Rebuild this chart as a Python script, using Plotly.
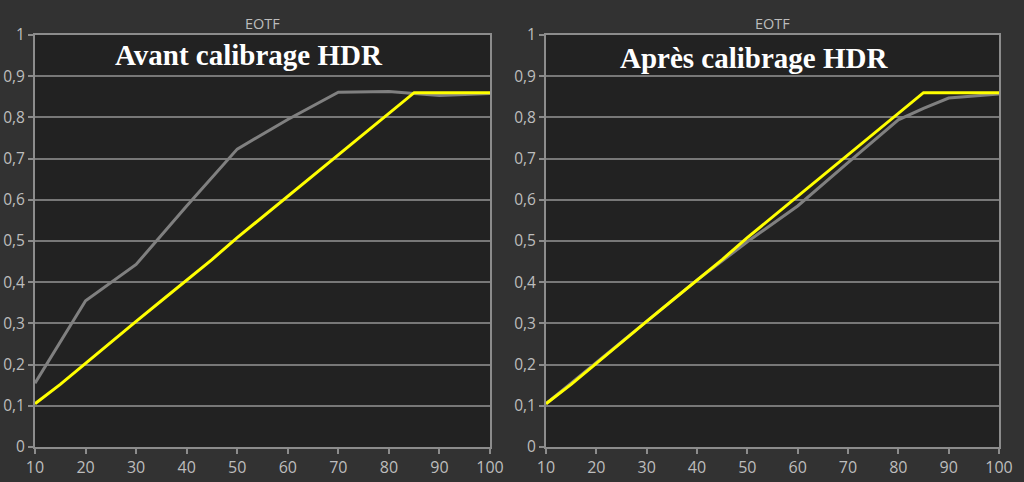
import plotly.graph_objects as go

# ---- data ----
x_target = [10, 15, 20, 25, 30, 35, 40, 45, 50, 55, 60, 65, 70, 75, 80, 85, 90, 95, 100]
target = [0.105, 0.152, 0.203, 0.255, 0.305, 0.355, 0.405, 0.455, 0.508, 0.558,
          0.608, 0.660, 0.710, 0.760, 0.810, 0.860, 0.860, 0.860, 0.860]

x_meas = [10, 20, 30, 40, 50, 60, 70, 80, 85, 90, 100]
before = [0.155, 0.355, 0.443, 0.585, 0.723, 0.795, 0.861, 0.863, 0.858, 0.853, 0.858]
after = [0.105, 0.205, 0.305, 0.405, 0.498, 0.585, 0.690, 0.794, 0.822, 0.847, 0.857]

y_ticks = [0, 0.1, 0.2, 0.3, 0.4, 0.5, 0.6, 0.7, 0.8, 0.9, 1]
y_labels = ["0", "0,1", "0,2", "0,3", "0,4", "0,5", "0,6", "0,7", "0,8", "0,9", "1"]
x_ticks = [10, 20, 30, 40, 50, 60, 70, 80, 90, 100]

panel_titles = ["Avant calibrage HDR", "Après calibrage HDR"]
chart_title = "EOTF"

# ---- style ----
YELLOW = "#ffff00"
GRAY = "#808080"
FRAME = "#8c8c8c"
GRID = "#787878"
TXT = "#bdbdbd"

fig = go.Figure()

fig.add_trace(go.Scatter(x=x_meas, y=before, mode="lines", line=dict(color=GRAY, width=3),
                         xaxis="x", yaxis="y", showlegend=False))
fig.add_trace(go.Scatter(x=x_target, y=target, mode="lines", line=dict(color=YELLOW, width=3),
                         xaxis="x", yaxis="y", showlegend=False))
fig.add_trace(go.Scatter(x=x_meas, y=after, mode="lines", line=dict(color=GRAY, width=3),
                         xaxis="x2", yaxis="y2", showlegend=False))
fig.add_trace(go.Scatter(x=x_target, y=target, mode="lines", line=dict(color=YELLOW, width=3),
                         xaxis="x2", yaxis="y2", showlegend=False))

W, H = 1024, 482
dom_y = [1 - 447 / H, 1 - 35 / H]
dom_x1 = [35 / W, 490 / W]
dom_x2 = [546 / W, 999 / W]

def xaxis(dom, anchor):
    return dict(domain=dom, anchor=anchor, range=[10, 100], tickvals=x_ticks,
                automargin=False,
                showgrid=False, zeroline=False, showline=True, linecolor=FRAME, linewidth=2,
                mirror=True, ticks="outside", ticklen=5, tickwidth=1.5, tickcolor=FRAME,
                tickfont=dict(family="Open Sans, sans-serif", size=16, color=TXT))

def yaxis(anchor):
    return dict(domain=dom_y, anchor=anchor, range=[0, 1], tickvals=y_ticks, ticktext=y_labels,
                automargin=False,
                showgrid=True, gridcolor=GRID, gridwidth=2, zeroline=False,
                showline=True, linecolor=FRAME, linewidth=2, mirror=True,
                ticks="outside", ticklen=5, tickwidth=1.5, tickcolor=FRAME,
                tickfont=dict(family="Open Sans, sans-serif", size=15.5, color=TXT))

annotations = []
for dom, title in [(dom_x1, panel_titles[0]), (dom_x2, panel_titles[1])]:
    cx = (dom[0] + dom[1]) / 2
    annotations.append(dict(x=cx, y=1 - 23 / H, xref="paper", yref="paper", text=chart_title,
                            showarrow=False, xanchor="center", yanchor="middle",
                            font=dict(family="Open Sans, sans-serif", size=14.5, color=TXT)))
annotations.append(dict(x=249 / W, y=1 - 55 / H, xref="paper", yref="paper",
                        text="<b>" + panel_titles[0] + "</b>", showarrow=False,
                        xanchor="center", yanchor="middle",
                        font=dict(family="Liberation Serif, Times New Roman, serif", size=29, color="#ffffff")))
annotations.append(dict(x=754 / W, y=1 - 58 / H, xref="paper", yref="paper",
                        text="<b>" + panel_titles[1] + "</b>", showarrow=False,
                        xanchor="center", yanchor="middle",
                        font=dict(family="Liberation Serif, Times New Roman, serif", size=29, color="#ffffff")))

fig.update_layout(
    width=W, height=H, autosize=False,
    margin=dict(l=0, r=0, t=0, b=0, pad=0, autoexpand=False),
    paper_bgcolor="#323232",
    plot_bgcolor="#222222",
    xaxis=xaxis(dom_x1, "y"),
    yaxis=yaxis("x"),
    xaxis2=xaxis(dom_x2, "y2"),
    yaxis2=yaxis("x2"),
    annotations=annotations,
    showlegend=False,
)

fig.write_html(
    "out.html",
    config={"displayModeBar": False, "responsive": False},
    post_script="document.body.style.margin='0';document.body.style.padding='0';"
                "document.body.style.overflow='hidden';"
                "document.documentElement.style.overflow='hidden';",
)
